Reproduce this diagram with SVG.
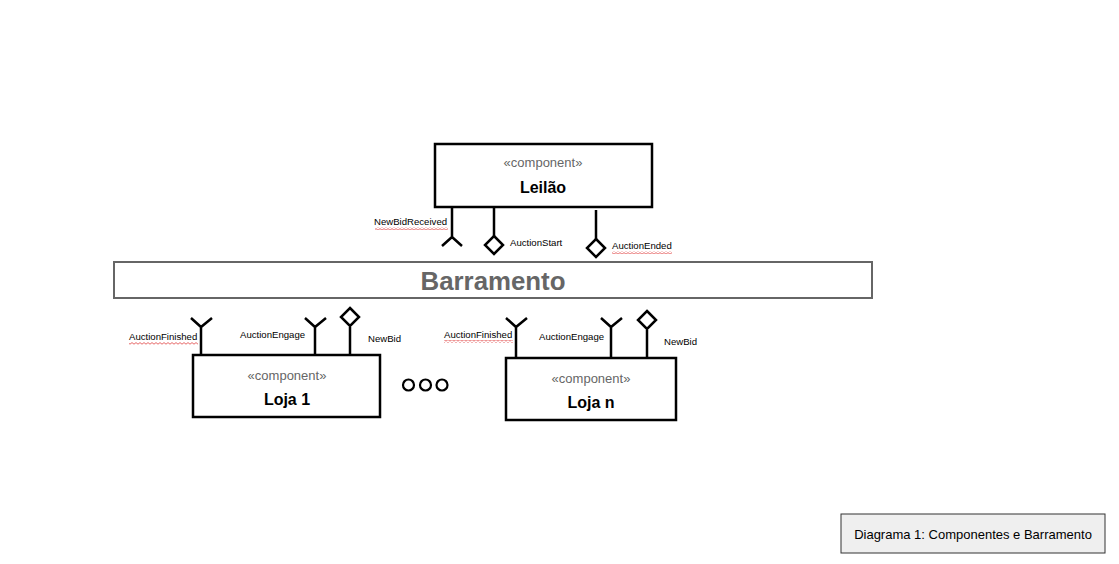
<svg xmlns="http://www.w3.org/2000/svg" width="1119" height="564" viewBox="0 0 1119 564">
<style>
.box{fill:#fff;stroke:#000;stroke-width:2.5}
.ln{fill:none;stroke:#000;stroke-width:2.5}
.dia{fill:#fff;stroke:#000;stroke-width:2.5}
.st{font-family:"Liberation Sans",Arial,sans-serif;font-size:13px;fill:#666;text-anchor:middle}
.nm{font-family:"Liberation Sans",Arial,sans-serif;font-size:16px;font-weight:bold;fill:#000;text-anchor:middle}
.lb{font-family:"Liberation Sans",Arial,sans-serif;font-size:9.6px;fill:#000}
</style>
<defs>
<pattern id="wave" x="0" y="0" width="4" height="3" patternUnits="userSpaceOnUse">
<path d="M0 0.6L2 2.2L4 0.6" fill="none" stroke="#e04040" stroke-width="0.8"/>
</pattern>
</defs>
<rect width="1119" height="564" fill="#fff"/>
<g id="barramento">
<rect x="114" y="262" width="758" height="36" fill="#fff" stroke="#666" stroke-width="2"/>
<text x="493" y="290" font-family="'Liberation Sans',Arial,sans-serif" font-size="25" font-weight="bold" fill="#666" text-anchor="middle" textLength="145" lengthAdjust="spacingAndGlyphs">Barramento</text>
</g>
<g id="leilao">
<rect class="box" x="435" y="144" width="217" height="63"/>
<text class="st" x="543" y="167">«component»</text>
<text class="nm" x="543" y="193">Leilão</text>
</g>
<g id="loja1">
<rect class="box" x="193" y="355" width="187" height="62"/>
<text class="st" x="287" y="380">«component»</text>
<text class="nm" x="287" y="405">Loja 1</text>
</g>
<g id="lojan">
<rect class="box" x="506" y="358" width="170" height="62"/>
<text class="st" x="591" y="383">«component»</text>
<text class="nm" x="591" y="408">Loja n</text>
</g>
<g id="reticencias">
<circle cx="408.5" cy="385" r="5.5" fill="none" stroke="#000" stroke-width="2.2"/>
<circle cx="425.5" cy="385" r="5.5" fill="none" stroke="#000" stroke-width="2.2"/>
<circle cx="442" cy="385" r="5.5" fill="none" stroke="#000" stroke-width="2.2"/>
</g>
<g id="connectors">
<path class="ln" d="M452 207V237M442 246L452 237L462 246"/>
<path class="ln" d="M494 207V236"/>
<path class="dia" d="M494 236L503 245L494 254L485 245Z"/>
<path class="ln" d="M596 210V239"/>
<path class="dia" d="M596 239L605 248L596 257L587 248Z"/>
<path class="ln" d="M201 355V327M191 318L201 327L212 318"/>
<path class="ln" d="M315 355V327M305 318L315 327L326 318"/>
<path class="ln" d="M350 355V327"/>
<path class="dia" d="M350 308L359 317L350 326L341 317Z"/>
<path class="ln" d="M516 358V327M506 318L516 327L527 318"/>
<path class="ln" d="M611 358V327M601 318L611 327L622 318"/>
<path class="ln" d="M647 358V330"/>
<path class="dia" d="M647 311L656 320L647 329L638 320Z"/>
</g>
<g id="labels">
<text class="lb" x="374" y="225">NewBidReceived</text>
<rect x="375" y="227" width="73" height="3" fill="url(#wave)"/>
<text class="lb" x="510" y="246">AuctionStart</text>
<text class="lb" x="612" y="249">AuctionEnded</text>
<rect x="612" y="251" width="60" height="3" fill="url(#wave)"/>
<text class="lb" x="129" y="340">AuctionFinished</text>
<rect x="129" y="342" width="69" height="3" fill="url(#wave)"/>
<text class="lb" x="240" y="338">AuctionEngage</text>
<text class="lb" x="368" y="342">NewBid</text>
<text class="lb" x="444" y="338">AuctionFinished</text>
<rect x="444" y="340" width="69" height="3" fill="url(#wave)"/>
<text class="lb" x="539" y="340">AuctionEngage</text>
<text class="lb" x="664" y="345">NewBid</text>
</g>
<g id="legenda">
<rect x="841" y="514" width="264" height="39" fill="#efefef" stroke="#333" stroke-width="1"/>
<text x="973" y="539" font-family="'Liberation Sans',Arial,sans-serif" font-size="13" fill="#000" text-anchor="middle">Diagrama 1: Componentes e Barramento</text>
</g>
</svg>
